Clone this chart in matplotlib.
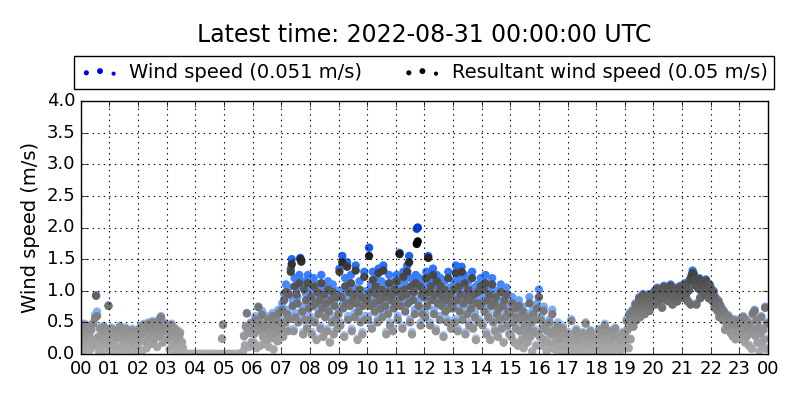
import numpy as np
import matplotlib
matplotlib.use("Agg")
import matplotlib.pyplot as plt
from matplotlib.colors import LinearSegmentedColormap

plt.style.use("classic")

title = "Latest time: 2022-08-31 00:00:00 UTC"
hour_labels = ["%02d" % h for h in range(24)] + ["00"]
samples_per_hour = 30
Z = [0.00] * 10

# wind speed (m/s), one row per hour, 2-minute samples
wind_speed = [
    [0.42, 0.18, 0.35, 0.05, 0.48, 0.25, 0.38, 0.12, 0.45, 0.30, 0.08, 0.40, 0.22, 0.50, 0.15, 0.62, 0.93, 0.67, 0.28, 0.05, 0.42, 0.18, 0.35, 0.10, 0.45, 0.25, 0.02, 0.38, 0.20, 0.77],
    [0.30, 0.10, 0.42, 0.22, 0.05, 0.35, 0.15, 0.40, 0.28, 0.02, 0.33, 0.45, 0.12, 0.25, 0.38, 0.08, 0.20, 0.42, 0.30, 0.05, 0.15, 0.35, 0.25, 0.10, 0.40, 0.18, 0.03, 0.30, 0.22, 0.12],
    [0.15, 0.40, 0.28, 0.45, 0.05, 0.35, 0.48, 0.22, 0.42, 0.10, 0.38, 0.50, 0.30, 0.45, 0.18, 0.52, 0.40, 0.25, 0.48, 0.35, 0.12, 0.45, 0.55, 0.30, 0.60, 0.42, 0.20, 0.50, 0.38, 0.48],
    [0.45, 0.25, 0.40, 0.08, 0.35, 0.48, 0.15, 0.30, 0.42, 0.05, 0.22, 0.38, 0.12, 0.28, 0.35, 0.05, 0.20, 0.10, 0.02, 0.00] + Z,
    Z + Z + [0.00] * 8 + [0.25, 0.47],
    Z + Z + [0.05, 0.30, 0.15, 0.45, 0.65, 0.40, 0.12, 0.35, 0.50, 0.20],
    [0.48, 0.20, 0.35, 0.60, 0.10, 0.42, 0.75, 0.55, 0.15, 0.40, 0.68, 0.30, 0.50, 0.18, 0.45, 0.25, 0.60, 0.12, 0.38, 0.52, 0.28, 0.65, 0.08, 0.45, 0.35, 0.58, 0.22, 0.70, 0.40, 0.55],
    [0.45, 0.80, 0.30, 0.95, 0.55, 1.10, 0.70, 0.40, 1.05, 0.62, 1.35, 1.50, 0.85, 0.40, 1.20, 0.65, 1.05, 0.90, 0.55, 1.25, 1.52, 1.48, 0.75, 0.35, 1.15, 0.60, 0.95, 0.45, 1.25, 0.80],
    [0.60, 1.00, 0.35, 0.85, 1.20, 0.55, 0.90, 0.25, 1.10, 0.70, 0.95, 0.45, 1.25, 0.80, 0.30, 1.05, 0.65, 0.90, 0.40, 1.15, 0.75, 0.20, 0.95, 0.55, 1.10, 0.35, 0.85, 0.60, 1.00, 0.45],
    [0.70, 1.35, 0.50, 1.00, 1.55, 0.80, 0.30, 1.20, 0.90, 1.45, 0.60, 1.10, 0.85, 1.25, 0.40, 0.95, 1.05, 0.65, 1.40, 0.90, 0.25, 0.75, 1.15, 0.55, 1.00, 0.35, 0.85, 1.30, 0.60, 0.95],
    [1.00, 0.60, 1.68, 0.85, 1.10, 0.45, 1.30, 0.90, 0.75, 1.20, 1.05, 0.55, 1.35, 0.95, 0.80, 1.15, 0.65, 1.40, 1.00, 0.85, 0.35, 1.10, 0.70, 1.25, 0.50, 0.95, 1.05, 0.40, 0.80, 1.15],
    [0.90, 1.25, 0.60, 1.10, 1.60, 0.85, 1.00, 0.45, 1.30, 1.15, 0.75, 1.05, 1.40, 0.90, 1.55, 0.55, 1.20, 0.35, 0.95, 1.10, 0.70, 1.25, 1.98, 2.00, 0.85, 1.20, 0.50, 1.05, 0.70, 1.10],
    [1.00, 0.65, 1.30, 0.85, 1.55, 1.10, 0.50, 1.20, 0.95, 1.35, 0.70, 1.05, 0.40, 1.25, 0.90, 1.10, 0.60, 1.20, 0.85, 1.00, 0.30, 1.15, 0.75, 0.95, 0.55, 1.30, 0.80, 1.05, 0.45, 0.90],
    [0.80, 1.15, 0.55, 1.40, 0.95, 0.40, 1.20, 0.75, 1.05, 1.38, 0.60, 0.90, 1.25, 0.35, 1.00, 0.70, 1.15, 0.50, 0.95, 0.80, 1.30, 0.45, 1.05, 0.65, 0.25, 0.90, 1.10, 0.55, 0.85, 1.20],
    [0.90, 0.50, 1.15, 0.75, 1.25, 0.35, 0.95, 0.65, 1.05, 0.25, 0.85, 1.20, 0.55, 0.90, 0.40, 1.00, 0.70, 0.30, 0.80, 0.60, 1.10, 0.45, 0.85, 0.20, 0.95, 0.65, 1.05, 0.50, 0.75, 0.35],
    [0.70, 0.30, 0.90, 0.55, 0.20, 0.80, 0.45, 0.65, 0.15, 0.85, 0.40, 0.60, 0.25, 0.75, 0.10, 0.50, 0.35, 0.65, 0.20, 0.45, 0.90, 0.30, 0.55, 0.05, 0.70, 0.40, 0.60, 0.15, 0.80, 0.35],
    [1.02, 0.30, 0.60, 0.15, 0.45, 0.75, 0.25, 0.50, 0.05, 0.40, 0.20, 0.55, 0.10, 0.35, 0.70, 0.18, 0.42, 0.08, 0.30, 0.22, 0.50, 0.12, 0.38, 0.02, 0.28, 0.45, 0.15, 0.33, 0.05, 0.25],
    [0.15, 0.35, 0.05, 0.25, 0.55, 0.10, 0.30, 0.02, 0.20, 0.40, 0.08, 0.15, 0.30, 0.05, 0.22, 0.12, 0.35, 0.03, 0.18, 0.50, 0.10, 0.28, 0.02, 0.15, 0.38, 0.06, 0.20, 0.30, 0.04, 0.12],
    [0.10, 0.28, 0.05, 0.40, 0.15, 0.02, 0.22, 0.35, 0.08, 0.48, 0.12, 0.30, 0.05, 0.20, 0.38, 0.10, 0.25, 0.02, 0.32, 0.15, 0.42, 0.06, 0.18, 0.30, 0.03, 0.12, 0.25, 0.08, 0.35, 0.20],
    [0.30, 0.15, 0.55, 0.40, 0.10, 0.65, 0.25, 0.50, 0.70, 0.45, 0.60, 0.80, 0.55, 0.75, 0.65, 0.90, 0.60, 0.85, 0.70, 0.95, 0.80, 0.65, 0.90, 0.75, 0.85, 0.95, 0.70, 0.90, 0.80, 0.95],
    [0.90, 1.00, 0.80, 0.95, 1.05, 0.85, 0.98, 0.90, 1.02, 0.75, 0.95, 1.08, 0.88, 1.00, 0.92, 1.05, 0.85, 0.98, 1.10, 0.95, 0.80, 1.00, 0.90, 1.05, 0.95, 0.85, 1.02, 0.92, 1.08, 0.98],
    [1.00, 1.05, 0.90, 1.12, 0.95, 1.08, 0.85, 1.02, 1.18, 0.80, 1.25, 1.32, 1.28, 1.20, 1.10, 0.80, 1.15, 1.05, 1.20, 0.90, 1.12, 1.00, 1.15, 1.08, 0.95, 1.18, 1.05, 1.12, 0.90, 1.10],
    [1.05, 0.95, 0.85, 1.00, 0.75, 0.90, 0.80, 0.70, 0.85, 0.60, 0.78, 0.65, 0.72, 0.55, 0.68, 0.40, 0.60, 0.50, 0.62, 0.45, 0.58, 0.35, 0.52, 0.30, 0.48, 0.55, 0.25, 0.45, 0.38, 0.50],
    [0.55, 0.35, 0.50, 0.25, 0.60, 0.40, 0.20, 0.55, 0.30, 0.45, 0.15, 0.50, 0.35, 0.10, 0.65, 0.40, 0.70, 0.30, 0.55, 0.20, 0.45, 0.05, 0.35, 0.60, 0.15, 0.40, 0.25, 0.75, 0.10, 0.50],
]

# resultant wind speed (m/s), same timestamps
resultant_speed = [
    [0.40, 0.16, 0.33, 0.04, 0.46, 0.23, 0.36, 0.11, 0.43, 0.28, 0.07, 0.38, 0.20, 0.48, 0.14, 0.57, 0.92, 0.60, 0.26, 0.04, 0.40, 0.16, 0.33, 0.09, 0.43, 0.23, 0.02, 0.36, 0.18, 0.76],
    [0.28, 0.09, 0.40, 0.20, 0.04, 0.33, 0.13, 0.38, 0.26, 0.01, 0.31, 0.43, 0.11, 0.23, 0.36, 0.07, 0.18, 0.40, 0.28, 0.04, 0.13, 0.33, 0.23, 0.09, 0.38, 0.16, 0.02, 0.28, 0.20, 0.11],
    [0.13, 0.38, 0.26, 0.43, 0.04, 0.33, 0.46, 0.20, 0.40, 0.09, 0.36, 0.48, 0.28, 0.43, 0.16, 0.50, 0.38, 0.23, 0.46, 0.33, 0.11, 0.43, 0.53, 0.28, 0.58, 0.40, 0.18, 0.48, 0.36, 0.46],
    [0.43, 0.23, 0.38, 0.07, 0.33, 0.46, 0.13, 0.28, 0.40, 0.04, 0.20, 0.36, 0.11, 0.26, 0.33, 0.04, 0.18, 0.09, 0.01, 0.00] + Z,
    Z + Z + [0.00] * 8 + [0.24, 0.46],
    Z + Z + [0.04, 0.28, 0.13, 0.43, 0.64, 0.38, 0.11, 0.33, 0.48, 0.18],
    [0.44, 0.18, 0.32, 0.55, 0.09, 0.38, 0.74, 0.50, 0.13, 0.36, 0.62, 0.27, 0.45, 0.16, 0.41, 0.22, 0.55, 0.11, 0.34, 0.47, 0.25, 0.60, 0.07, 0.41, 0.32, 0.53, 0.20, 0.64, 0.36, 0.50],
    [0.40, 0.70, 0.27, 0.85, 0.50, 0.98, 0.63, 0.36, 0.94, 0.55, 1.30, 1.42, 0.76, 0.36, 1.07, 0.58, 0.94, 0.80, 0.50, 1.12, 1.50, 1.46, 0.67, 0.31, 1.02, 0.54, 0.85, 0.40, 1.12, 0.72],
    [0.54, 0.90, 0.31, 0.76, 1.07, 0.50, 0.80, 0.22, 0.98, 0.63, 0.85, 0.40, 1.12, 0.72, 0.27, 0.94, 0.58, 0.80, 0.36, 1.02, 0.67, 0.18, 0.85, 0.50, 0.98, 0.31, 0.76, 0.54, 0.90, 0.40],
    [0.63, 1.30, 0.45, 0.90, 1.45, 0.72, 0.27, 1.07, 0.80, 1.38, 0.54, 0.98, 0.76, 1.12, 0.36, 0.85, 0.94, 0.58, 1.32, 0.80, 0.22, 0.67, 1.02, 0.50, 0.90, 0.31, 0.76, 1.22, 0.54, 0.85],
    [0.90, 0.54, 1.55, 0.76, 0.98, 0.40, 1.17, 0.80, 0.67, 1.07, 0.94, 0.50, 1.28, 0.85, 0.72, 1.02, 0.58, 1.32, 0.90, 0.76, 0.31, 0.98, 0.63, 1.12, 0.45, 0.85, 0.94, 0.36, 0.72, 1.02],
    [0.80, 1.15, 0.54, 0.98, 1.58, 0.76, 0.90, 0.40, 1.22, 1.02, 0.67, 0.94, 1.30, 0.80, 1.45, 0.50, 1.07, 0.31, 0.85, 0.98, 0.63, 1.12, 1.74, 1.78, 0.76, 1.07, 0.45, 0.94, 0.63, 0.98],
    [0.90, 0.58, 1.20, 0.76, 1.52, 0.98, 0.45, 1.07, 0.85, 1.25, 0.63, 0.94, 0.36, 1.15, 0.80, 0.98, 0.54, 1.07, 0.76, 0.90, 0.27, 1.02, 0.67, 0.85, 0.50, 1.20, 0.72, 0.94, 0.40, 0.80],
    [0.72, 1.02, 0.50, 1.28, 0.85, 0.36, 1.07, 0.67, 0.94, 1.30, 0.54, 0.80, 1.12, 0.31, 0.90, 0.63, 1.02, 0.45, 0.85, 0.72, 1.20, 0.40, 0.94, 0.58, 0.22, 0.80, 0.98, 0.50, 0.76, 1.07],
    [0.80, 0.45, 1.02, 0.67, 1.12, 0.31, 0.85, 0.58, 0.94, 0.22, 0.76, 1.10, 0.50, 0.80, 0.36, 0.90, 0.63, 0.27, 0.72, 0.54, 0.98, 0.40, 0.76, 0.18, 0.85, 0.58, 0.94, 0.45, 0.67, 0.31],
    [0.63, 0.27, 0.80, 0.50, 0.18, 0.72, 0.40, 0.58, 0.13, 0.76, 0.36, 0.54, 0.22, 0.67, 0.09, 0.45, 0.31, 0.58, 0.18, 0.40, 0.80, 0.27, 0.50, 0.04, 0.63, 0.36, 0.54, 0.13, 0.72, 0.31],
    [0.90, 0.27, 0.54, 0.13, 0.40, 0.68, 0.22, 0.45, 0.04, 0.36, 0.18, 0.50, 0.09, 0.31, 0.63, 0.16, 0.38, 0.07, 0.27, 0.20, 0.45, 0.11, 0.34, 0.02, 0.25, 0.40, 0.13, 0.30, 0.04, 0.22],
    [0.13, 0.32, 0.04, 0.22, 0.52, 0.09, 0.27, 0.01, 0.18, 0.37, 0.07, 0.13, 0.28, 0.04, 0.20, 0.10, 0.33, 0.02, 0.16, 0.48, 0.09, 0.26, 0.01, 0.13, 0.36, 0.05, 0.18, 0.28, 0.03, 0.10],
    [0.08, 0.26, 0.04, 0.38, 0.13, 0.01, 0.20, 0.33, 0.07, 0.45, 0.10, 0.28, 0.04, 0.18, 0.36, 0.08, 0.23, 0.01, 0.30, 0.13, 0.40, 0.05, 0.16, 0.28, 0.02, 0.10, 0.23, 0.07, 0.33, 0.18],
    [0.28, 0.13, 0.52, 0.38, 0.09, 0.63, 0.23, 0.48, 0.68, 0.43, 0.58, 0.78, 0.53, 0.73, 0.63, 0.88, 0.58, 0.83, 0.68, 0.93, 0.78, 0.63, 0.88, 0.73, 0.83, 0.93, 0.68, 0.88, 0.78, 0.93],
    [0.88, 0.98, 0.78, 0.93, 1.03, 0.83, 0.96, 0.88, 1.00, 0.73, 0.93, 1.06, 0.86, 0.98, 0.90, 1.03, 0.83, 0.96, 1.08, 0.93, 0.78, 0.98, 0.88, 1.03, 0.93, 0.83, 1.00, 0.90, 1.06, 0.96],
    [0.98, 1.03, 0.88, 1.10, 0.93, 1.06, 0.83, 1.00, 1.16, 0.78, 1.23, 1.28, 1.26, 1.18, 1.08, 0.78, 1.13, 1.03, 1.18, 0.88, 1.10, 0.98, 1.13, 1.06, 0.93, 1.16, 1.03, 1.10, 0.88, 1.08],
    [1.03, 0.93, 0.83, 0.98, 0.73, 0.88, 0.78, 0.68, 0.83, 0.58, 0.76, 0.63, 0.70, 0.53, 0.66, 0.38, 0.58, 0.48, 0.60, 0.43, 0.56, 0.33, 0.50, 0.28, 0.46, 0.53, 0.23, 0.43, 0.36, 0.48],
    [0.53, 0.33, 0.48, 0.23, 0.58, 0.38, 0.18, 0.53, 0.28, 0.43, 0.13, 0.48, 0.33, 0.08, 0.63, 0.38, 0.68, 0.28, 0.53, 0.18, 0.43, 0.04, 0.33, 0.58, 0.13, 0.38, 0.23, 0.73, 0.08, 0.48],
]

ws = np.array(wind_speed).ravel()
rs = np.array(resultant_speed).ravel()
hours = np.arange(ws.size) / samples_per_hour

blues = LinearSegmentedColormap.from_list(
    "ws", ["#c8dcff", "#7fb0ff", "#2a74ff", "#0040d8"])
greys = LinearSegmentedColormap.from_list(
    "rs", ["#acacac", "#8c8c8c", "#646464", "#3c3c3c", "#000000"])

fig = plt.figure(figsize=(8, 4), dpi=100, facecolor="white")
ax = fig.add_axes([0.101, 0.115, 0.859, 0.6325])

ax.scatter(hours, ws, c=ws, cmap=blues, vmin=0, vmax=2.0, s=36,
           edgecolors="none")
ax.scatter(hours, rs, c=rs, cmap=greys, vmin=0, vmax=1.8, s=36,
           edgecolors="none")

ax.set_xlim(0, 24)
ax.set_ylim(0, 4)
ax.set_xticks(range(25))
ax.set_xticklabels(hour_labels)
ax.set_yticks(np.arange(0, 4.01, 0.5))
ax.tick_params(labelsize=13)
ax.set_ylabel("Wind speed (m/s)", fontsize=14)
ax.grid(True, color="k", linestyle=":", linewidth=0.8)

# legend proxies (nan points, never drawn)
nan2 = [np.nan, np.nan]
h1 = ax.scatter(nan2, nan2, c="#0000ee", s=[9, 18], edgecolors="none")
h2 = ax.scatter(nan2, nan2, c="#000000", s=[9, 18], edgecolors="none")
fig.legend([h1, h2], ["Wind speed (0.051 m/s)", "Resultant wind speed (0.05 m/s)"],
           loc="center", bbox_to_anchor=(0.53, 0.819), ncol=2, fontsize=14,
           scatterpoints=3, handletextpad=0.5, columnspacing=2.1,
           borderpad=0.35)
fig.text(0.53, 0.9125, title, ha="center", va="center", fontsize=17)

fig.savefig("out.png", dpi=100, facecolor="white")
